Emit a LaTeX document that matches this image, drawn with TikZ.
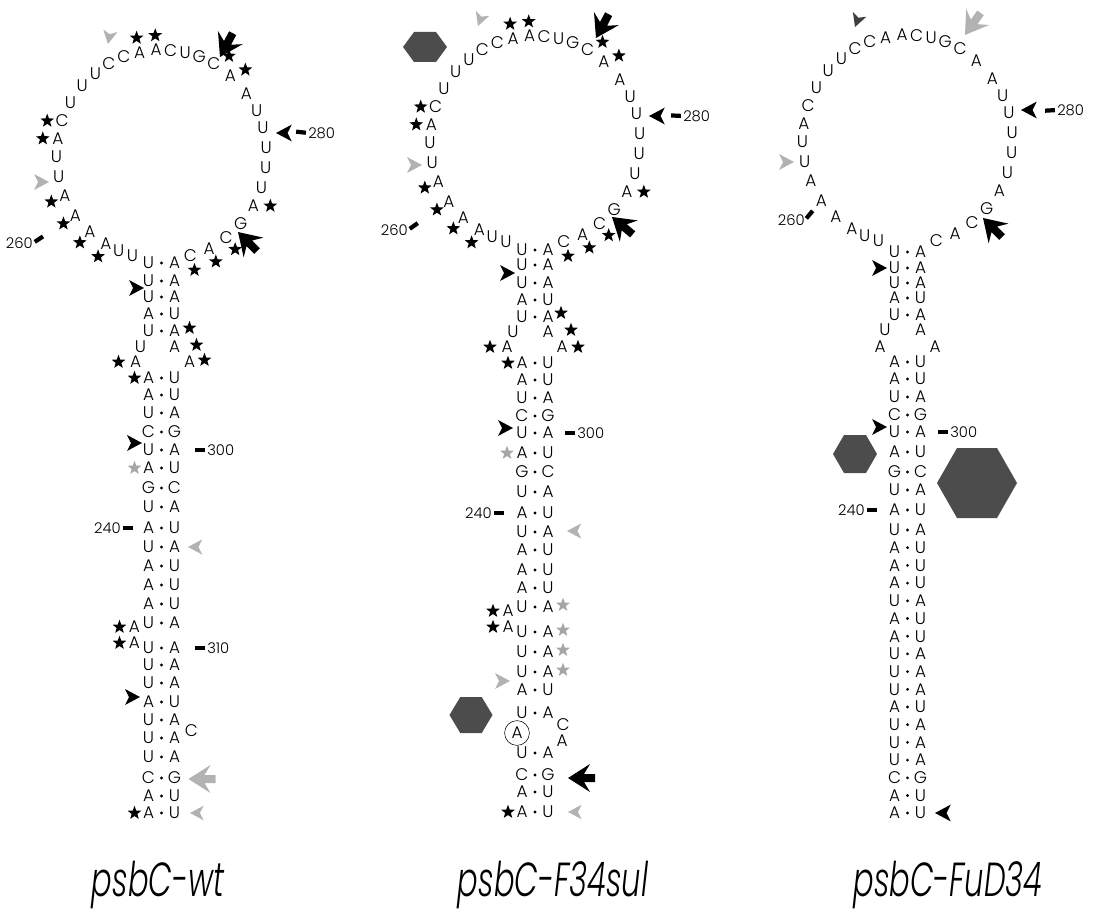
\documentclass[tikz,border=0pt]{standalone}
\usepackage{fontspec}
\newfontfamily\ntfont{Poppins Light}
\newfontfamily\titlefont{Poppins Light Italic}
\usetikzlibrary{shapes.geometric}
\usetikzlibrary{calc}
\usetikzlibrary{positioning}
\newcommand\ringradius{105}
\newcommand\tickwd{3pt}
\tikzstyle{nt}      = [inner sep=0pt, font=\ntfont\fontsize{12}{12}\selectfont]
\tikzstyle{numlab}  = [inner sep=0pt, font=\ntfont\fontsize{10.5}{11}\selectfont]
\tikzstyle{title}   = [inner sep=0pt, anchor=base, font=\titlefont\fontsize{34}{36}\selectfont]
\tikzstyle{bstar}   = [star, star points=5, star point ratio=2.4, fill=black, inner sep=0pt, minimum size=0.36cm]
\tikzstyle{gstar}   = [bstar, fill=black!35]
\tikzstyle{tick}    = [line width=\tickwd]
\tikzstyle{hexfill} = [fill=black!70]
\tikzstyle{ringed}  = [nt, circle, draw, thin, minimum size=0.62cm]
\begin{document}
\begin{tikzpicture}[x=0.025cm,y=-0.025cm]
  \newcommand\basepair[4]{
    \node[nt] (#1l) at (-13,#2) {#3};
    \node[nt] (#1r) at (13,#2) {#4};
    \fill ($(#1l)!.5!(#1r)$) circle (1.1pt);
  }
  \newcommand\loopring[2]{
    \coordinate (#1C) at (0,#2);
    \foreach \nb/\ang [count=\i from 0] in {U/-254,U/-246,A/-238,A/-227,A/-215,A/-203,
      U/-192,U/-181,A/-171,C/-161,U/-150,U/-139,U/-129,C/-120,C/-111,A/-102,A/-93,
      C/-85,U/-77,G/-69,C/-60,A/-49,A/-36,U/-25,U/-15,U/-4,U/7,U/18,A/29,G/41,
      C/52,A/63,C/74}
      {\node[nt] (#1L\i) at ($(#1C)+(\ang:\ringradius)$) {\nb};}
  }
  \newcommand\ringstar[3]{\node[#3] (#1rs#2) at ($(#1C)!1.14!(#1L#2)$) {};}
  \newcommand\arrowmark[4]{\fill[#4, shift={(#1)}, rotate=#2, scale=#3]
    (0,0) -- (-15,8) -- (-11,0) -- (-15,-8) -- cycle;}
  \newcommand\bigarrowmark[3]{\fill[#3, shift={(#1)}, rotate=#2]
    (0,0) -- (-22,14) -- (-16,4) -- (-27,4) -- (-27,-4) -- (-16,-4) -- (-22,-14) -- cycle;}
  \newcommand\hexmark[3]{\fill[hexfill, shift={(#1)}]
    (-#2/2,0) -- (-#2/4,-#3/2) -- (#2/4,-#3/2) -- (#2/2,0) -- (#2/4,#3/2) -- (-#2/4,#3/2) -- cycle;}
  \newcommand\numtick[2]{\draw[tick] ($(#1)!1.5pt!(#2)$) -- ($(#1)!8.5pt!(#2)$);}
  \useasboundingbox (0,0) rectangle (1093,920);

  % psbC-wt
  \begin{scope}[shift={(161.5,0)}]
    \loopring{wt}{155}
    \foreach \k/\y/\lt/\rt in {1/263/U/A, 2/281/U/A, 3/297/U/A, 4/314/A/U, 5/331/U/A,
      8/378/A/U, 9/395/A/U, 10/413/U/A, 11/432/C/G, 12/450/U/A, 13/468/A/U,
      14/488/G/C, 15/507/U/A, 16/528/A/U, 17/547/U/A, 18/566/A/U, 19/585/A/U,
      20/604/A/U, 21/623/U/A, 22/648/U/A, 23/665/U/A, 24/683/U/A, 25/702/A/U,
      26/720/U/A, 27/738/U/A, 28/757/U/A, 29/778/C/G, 30/796/A/U, 31/813/A/U}
      {\basepair{wt\k}{\y}{\lt}{\rt}}
    \node[nt] (wt6l) at (-21,347) {U};
    \node[nt] (wt6r) at (13,347) {A};
    \node[nt] (wt7l) at (-26,362) {A};
    \node[nt] (wt7r) at (28,362) {A};
    \node[nt] (wtb1) at (-27,627) {A};
    \node[nt] (wtb2) at (-27,643) {A};
    \node[nt] (wtc) at (30,731) {C};
    % stars
    \ringstar{wt}{15}{bstar} \ringstar{wt}{16}{bstar}
    \node[bstar] (wtrs20) at ($(wtL20)+(15,-8)$) {};
    \node[bstar] (wtrs21) at ($(wtL21)+(15,-6)$) {};
    \node[bstar] (wtrs9) at ($(wtL9)+(-15,0)$) {};
    \node[bstar] (wtrs8) at ($(wtL8)+(-15,0)$) {};
    \foreach \n in {2,...,5} {\ringstar{wt}{\n}{bstar}}
    \node[bstar] (wtrs28) at ($(wtL28)+(17,0)$) {};
    \foreach \n in {30,31,32} {\ringstar{wt}{\n}{bstar}}
    \node[bstar] (wtst5) at ($(wt5r)+(15,-3)$) {};
    \node[bstar] (wtst6) at ($(wt6r)+(22,-2)$) {};
    \node[bstar] (wtst7a) at ($(wt7l)+(-17,0)$) {};
    \node[bstar] (wtst7b) at ($(wt7r)+(15,-2)$) {};
    \node[bstar] (wtst8) at ($(wt8l)+(-14,0)$) {};
    \node[gstar] (wtst13) at ($(wt13l)+(-14,0)$) {};
    \node[bstar] (wtstb1) at ($(wtb1)+(-15,0)$) {};
    \node[bstar] (wtstb2) at ($(wtb2)+(-15,0)$) {};
    \node[bstar] (wtst31) at ($(wt31l)+(-14,0)$) {};
    % arrows
    \arrowmark{-53.5,44}{-100}{0.9}{gray!60}
    \bigarrowmark{58.5,57}{-118}{black}
    \arrowmark{-112.5,182}{0}{1}{gray!60}
    \arrowmark{114.5,133}{180}{1.05}{black}
    \bigarrowmark{76.5,232}{135}{black}
    \arrowmark{-17.5,288}{0}{1}{black}
    \arrowmark{-19.5,443}{0}{1}{black}
    \arrowmark{26.5,547}{180}{0.95}{gray!60}
    \arrowmark{-21.5,697}{0}{1}{black}
    \bigarrowmark{27,779}{180}{gray!60}
    \arrowmark{28.5,813}{180}{0.9}{gray!60}
    % numbering
    \node[numlab, anchor=east] (wt260) at (-128.5,243) {260};
    \numtick{wt260.east}{wtL4}
    \node[numlab, anchor=west] (wt280) at (146.5,133) {280};
    \numtick{wt280.west}{wtL24}
    \node[numlab, anchor=west] (wt300) at (45.5,450) {300};
    \numtick{wt300.west}{wt12r}
    \node[numlab, anchor=east] (wt240) at (-40.5,528) {240};
    \numtick{wt240.east}{wt16l}
    \node[numlab, anchor=west] (wt310) at (45.5,648) {310};
    \numtick{wt310.west}{wt22r}
  \end{scope}

  % psbC-F34sul
  \begin{scope}[shift={(535,0)}]
    \loopring{fs}{141}
    \foreach \k/\y/\lt/\rt in {1/250/U/A, 2/265/U/A, 3/283/U/A, 4/300/A/U, 5/317/U/A,
      8/363/A/U, 9/380/A/U, 10/398/U/A, 11/416/C/G, 12/433/U/A, 13/453/A/U,
      14/472/G/C, 15/492/U/A, 16/513/A/U, 17/532/U/A, 18/550/A/U, 19/570/A/U,
      20/588/A/U, 21/607/U/A, 22/632/U/A, 23/652/U/A, 24/672/U/A, 25/690/A/U,
      26/713/U/A, 27/753/U/A, 28/775/C/G, 29/792/A/U, 30/812/A/U}
      {\basepair{fs\k}{\y}{\lt}{\rt}}
    \node[nt] (fs6l) at (-22,332) {U};
    \node[nt] (fs6r) at (13,332) {A};
    \node[nt] (fs7l) at (-28,347) {A};
    \node[nt] (fs7r) at (27,347) {A};
    \node[nt] (fsb1) at (-27,611) {A};
    \node[nt] (fsb2) at (-27,627) {A};
    \node[nt] (fsc) at (28,725) {C};
    \node[ringed] (fsa) at (-18,733) {A};
    \node[nt] (fsd) at (27,741) {A};
    % stars
    \ringstar{fs}{15}{bstar} \ringstar{fs}{16}{bstar}
    \node[bstar] (fsrs20) at ($(fsL20)+(15,-8)$) {};
    \node[bstar] (fsrs21) at ($(fsL21)+(15,-6)$) {};
    \node[bstar] (fsrs9) at ($(fsL9)+(-15,0)$) {};
    \node[bstar] (fsrs8) at ($(fsL8)+(-15,0)$) {};
    \foreach \n in {2,...,5} {\ringstar{fs}{\n}{bstar}}
    \node[bstar] (fsrs28) at ($(fsL28)+(17,0)$) {};
    \foreach \n in {30,31,32} {\ringstar{fs}{\n}{bstar}}
    \node[bstar] (fsst5) at ($(fs5r)+(13,-4)$) {};
    \node[bstar] (fsst6) at ($(fs6r)+(23,-2)$) {};
    \node[bstar] (fsst7a) at ($(fs7l)+(-17,0)$) {};
    \node[bstar] (fsst7b) at ($(fs7r)+(16,0)$) {};
    \node[bstar] (fsst8) at ($(fs8l)+(-14,0)$) {};
    \node[gstar] (fsst13) at ($(fs13l)+(-15,0)$) {};
    \foreach \n in {21,...,24} {\node[gstar] (fsst\n) at ($(fs\n r)+(15,-2)$) {};}
    \node[bstar] (fsstb1) at ($(fsb1)+(-15,0)$) {};
    \node[bstar] (fsstb2) at ($(fsb2)+(-15,0)$) {};
    \node[bstar] (fsst30) at ($(fs30l)+(-14,0)$) {};
    % arrows and mutation marks
    \hexmark{-110,47}{44}{30}
    \arrowmark{-57,26}{-110}{0.9}{gray!60}
    \bigarrowmark{61,38}{-118}{black}
    \arrowmark{-113,165}{0}{1}{gray!60}
    \arrowmark{114,116}{180}{1.05}{black}
    \bigarrowmark{77,217}{140}{black}
    \arrowmark{-20,273}{0}{1}{black}
    \arrowmark{-22,428}{0}{1}{black}
    \arrowmark{32,531}{180}{0.95}{gray!60}
    \arrowmark{-25,681}{0}{1}{gray!60}
    \hexmark{-64,715}{43}{36}
    \bigarrowmark{33,778}{180}{black}
    \arrowmark{33,812}{180}{0.9}{gray!60}
    % numbering
    \node[numlab, anchor=east] (fs260) at (-127,230) {260};
    \numtick{fs260.east}{fsL4}
    \node[numlab, anchor=west] (fs280) at (148,116) {280};
    \numtick{fs280.west}{fsL24}
    \node[numlab, anchor=west] (fs300) at (42,433) {300};
    \numtick{fs300.west}{fs12r}
    \node[numlab, anchor=east] (fs240) at (-43,513) {240};
    \numtick{fs240.east}{fs16l}
  \end{scope}

  % psbC-FuD34
  \begin{scope}[shift={(907.5,0)}]
    \loopring{fu}{140}
    \foreach \k/\y/\lt/\rt in {1/252/U/A, 2/268/U/A, 3/283/U/A, 4/298/A/U, 5/315/U/A,
      8/362/A/U, 9/379/A/U, 10/397/U/A, 11/415/C/G, 12/432/U/A, 13/452/A/U,
      14/472/G/C, 15/490/U/A, 16/510/A/U, 17/530/U/A, 18/547.7/A/U, 19/565.4/A/U,
      20/583.1/A/U, 21/600.8/U/A, 22/618.5/A/U, 23/636.2/A/U, 24/653.9/U/A,
      25/671.6/U/A, 26/689.3/U/A, 27/707/A/U, 28/724.7/U/A, 29/742.4/U/A,
      30/760.1/U/A, 31/777.8/C/G, 32/795.5/A/U, 33/813/A/U}
      {\basepair{fu\k}{\y}{\lt}{\rt}}
    \node[nt] (fu6l) at (-22.5,330) {U};
    \node[nt] (fu6r) at (13,330) {A};
    \node[nt] (fu7l) at (-27.5,347) {A};
    \node[nt] (fu7r) at (27.5,347) {A};
    % arrows and mutation marks
    \arrowmark{-52.5,27}{-110}{0.9}{black!75}
    \bigarrowmark{57.5,35}{-125}{gray!60}
    \arrowmark{-113.5,162}{0}{1}{gray!60}
    \arrowmark{113.5,110}{180}{1.05}{black}
    \bigarrowmark{75.5,218}{135}{black}
    \arrowmark{-20.5,268}{0}{1}{black}
    \arrowmark{-20.5,427}{0}{1}{black}
    \hexmark{-52.5,454}{44}{38}
    \hexmark{69.5,483}{80}{70}
    \arrowmark{27.5,813}{180}{1.05}{black}
    % numbering
    \node[numlab, anchor=east] (fu260) at (-102.5,220) {260};
    \numtick{fu260.east}{fuL4}
    \node[numlab, anchor=west] (fu280) at (149.5,110) {280};
    \numtick{fu280.west}{fuL24}
    \node[numlab, anchor=west] (fu300) at (42.5,432) {300};
    \numtick{fu300.west}{fu12r}
    \node[numlab, anchor=east] (fu240) at (-42.5,510) {240};
    \numtick{fu240.east}{fu16l}
  \end{scope}

  % strain names
  \node[title] (wtname) at (158,896) {\scalebox{0.64}[1]{psbC-wt}};
  \node[title] (fsname) at (553,896) {\scalebox{0.64}[1]{psbC-F34sul}};
  \node[title] (funame) at (948,896) {\scalebox{0.64}[1]{psbC-FuD34}};
\end{tikzpicture}
\end{document}
